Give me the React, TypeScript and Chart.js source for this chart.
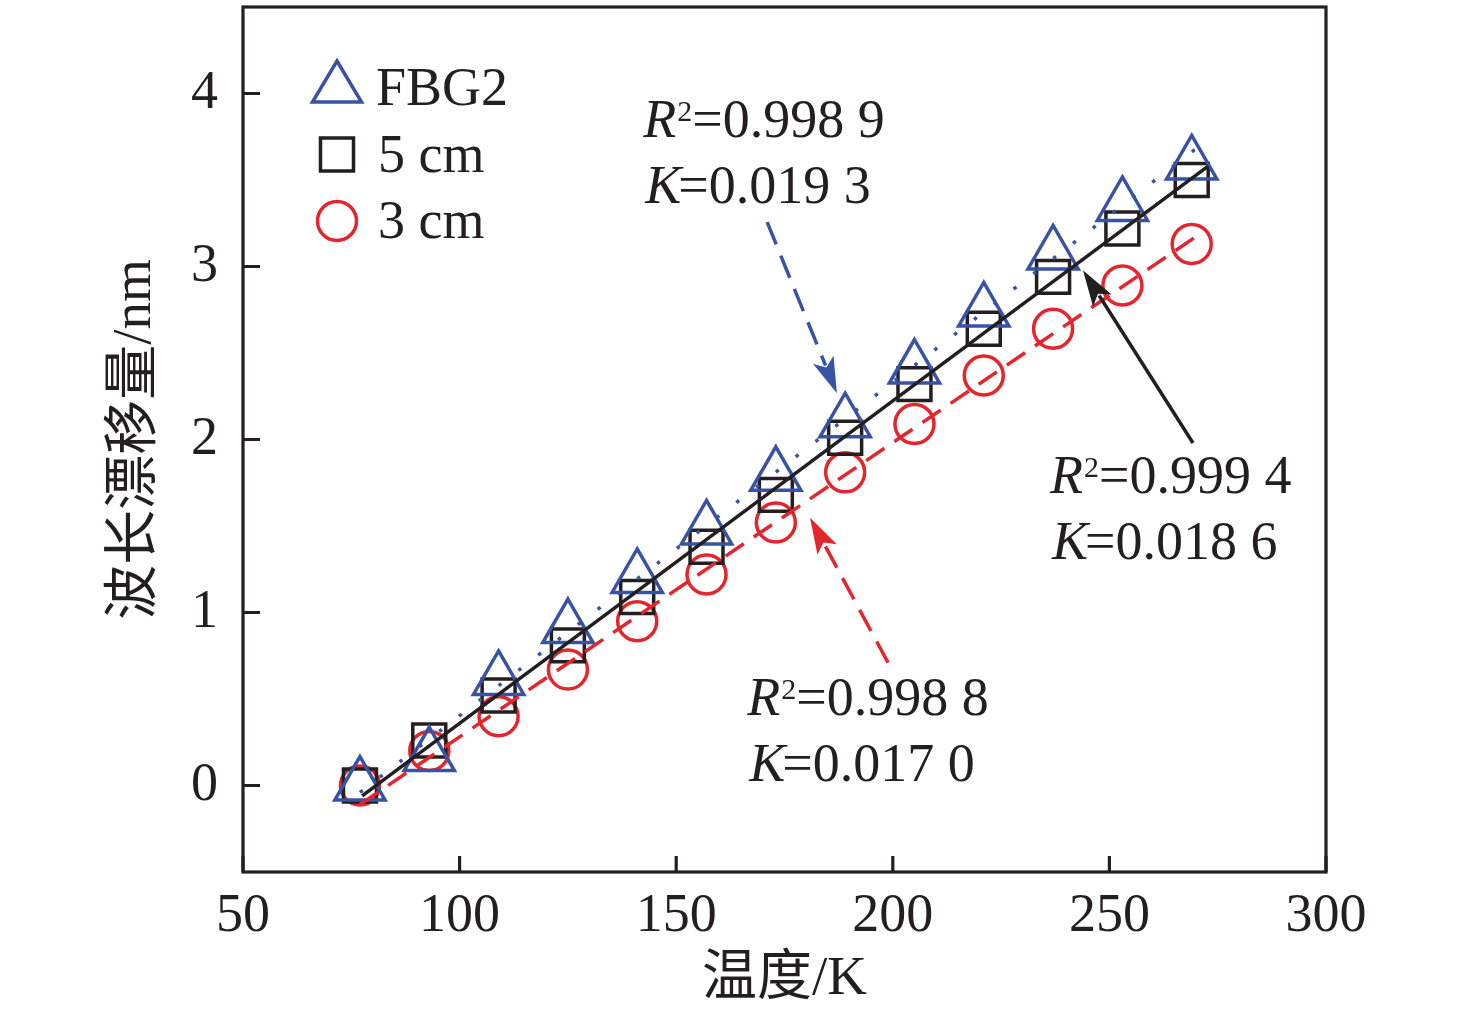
import { useEffect, useRef } from 'react'
import { Chart, registerables } from 'chart.js'

Chart.register(...registerables)

// temperature (K) and wavelength shift (nm)
const temps = [77, 93, 109, 125, 141, 157, 173, 189, 205, 221, 237, 253, 269]
const fbg2 = [0, 0.17, 0.61, 0.91, 1.2, 1.48, 1.79, 2.1, 2.41, 2.74, 3.07, 3.35, 3.59]
const cm5 = [0, 0.26, 0.52, 0.81, 1.09, 1.38, 1.68, 2.01, 2.32, 2.64, 2.94, 3.22, 3.5]
const cm3 = [0, 0.2, 0.4, 0.67, 0.95, 1.22, 1.52, 1.81, 2.09, 2.37, 2.64, 2.89, 3.13]

// linear fits, end points
const fitFbg2 = [[77, -0.04], [272, 3.72]]
const fit5 = [[77.5, -0.06], [272.8, 3.58]]
const fit3 = [[77, -0.11], [271.6, 3.2]]

const xTicks = [50, 100, 150, 200, 250, 300]
const yTicks = [0, 1, 2, 3, 4]

const INK = '#231f20'
const BLUE = '#3953a4'
const RED = '#e3262d'
const SERIF = '"Liberation Serif", "Times New Roman", "Noto Sans CJK SC", serif'

// fit labels (anchor in data units) and their arrows
const notes = [
  { r2: '0.998 9', k: '0.019 3', at: [142.4, 3.75] },
  { r2: '0.999 4', k: '0.018 6', at: [236.3, 1.69] },
  { r2: '0.998 8', k: '0.017 0', at: [166.4, 0.41] },
]
const arrows = [
  { from: [171, 3.256], to: [187.1, 2.267], color: BLUE, dash: [24, 12] },
  { from: [198.9, 0.71], to: [180.9, 1.547], color: RED, dash: [24, 12] },
  { from: [269.3, 1.98], to: [243.9, 2.979], color: INK, dash: [] as number[] },
]

const legendItems = [
  { label: 'FBG2', shape: 'triangle', color: BLUE },
  { label: '5 cm', shape: 'rect', color: INK },
  { label: '3 cm', shape: 'circle', color: RED },
]

const pts = (xs: number[], ys: number[]) => xs.map((x, i) => ({ x, y: ys[i] }))
const seg = (p: number[][]) => p.map(([x, y]) => ({ x, y }))

function drawNote(ctx: CanvasRenderingContext2D, x: number, y: number, r2: string, k: string) {
  ctx.fillStyle = INK
  ctx.textAlign = 'left'
  ctx.textBaseline = 'alphabetic'
  ctx.font = `italic 54px ${SERIF}`
  ctx.fillText('R', x, y)
  let cx = x + ctx.measureText('R').width + 1
  ctx.font = `30px ${SERIF}`
  ctx.fillText('2', cx, y - 16)
  cx += ctx.measureText('2').width
  ctx.font = `54px ${SERIF}`
  ctx.fillText('=' + r2, cx, y)

  const y2 = y + 66
  ctx.font = `italic 54px ${SERIF}`
  ctx.fillText('K', x + 2, y2)
  const kx = x + 2 + ctx.measureText('K').width - 3
  ctx.font = `54px ${SERIF}`
  ctx.fillText('=' + k, kx, y2)
}

function drawArrow(ctx: CanvasRenderingContext2D, x1: number, y1: number, x2: number, y2: number, color: string, dash: number[]) {
  const ang = Math.atan2(y2 - y1, x2 - x1)
  const len = 36
  const half = 11
  const bx = x2 - Math.cos(ang) * (len - 6)
  const by = y2 - Math.sin(ang) * (len - 6)
  ctx.save()
  ctx.strokeStyle = color
  ctx.fillStyle = color
  ctx.lineWidth = 3.5
  ctx.setLineDash(dash)
  ctx.beginPath()
  ctx.moveTo(x1, y1)
  ctx.lineTo(bx, by)
  ctx.stroke()
  ctx.setLineDash([])
  const px = -Math.sin(ang)
  const py = Math.cos(ang)
  const baseX = x2 - Math.cos(ang) * len
  const baseY = y2 - Math.sin(ang) * len
  ctx.beginPath()
  ctx.moveTo(x2, y2)
  ctx.lineTo(baseX + px * half, baseY + py * half)
  ctx.lineTo(x2 - Math.cos(ang) * (len - 8), y2 - Math.sin(ang) * (len - 8))
  ctx.lineTo(baseX - px * half, baseY - py * half)
  ctx.closePath()
  ctx.fill()
  ctx.restore()
}

function drawSymbol(ctx: CanvasRenderingContext2D, shape: string, cx: number, cy: number, color: string) {
  ctx.save()
  ctx.strokeStyle = color
  ctx.lineWidth = 3.5
  ctx.beginPath()
  if (shape === 'triangle') {
    ctx.moveTo(cx, cy - 27)
    ctx.lineTo(cx + 24.5, cy + 14)
    ctx.lineTo(cx - 24.5, cy + 14)
    ctx.closePath()
  } else if (shape === 'rect') {
    ctx.rect(cx - 16.5, cy - 16.5, 33, 33)
  } else {
    ctx.arc(cx, cy, 19.5, 0, Math.PI * 2)
  }
  ctx.stroke()
  ctx.restore()
}

const decor = {
  id: 'decor',
  afterDraw(chart: Chart) {
    const { ctx, chartArea: a } = chart
    const xs = chart.scales.x
    const ys = chart.scales.y

    ctx.save()
    // frame and inward ticks
    ctx.strokeStyle = INK
    ctx.lineWidth = 3.2
    ctx.strokeRect(a.left, a.top, a.right - a.left, a.bottom - a.top)
    ctx.beginPath()
    xTicks.forEach((v) => {
      const px = xs.getPixelForValue(v)
      ctx.moveTo(px, a.bottom)
      ctx.lineTo(px, a.bottom - 16)
    })
    yTicks.forEach((v) => {
      const py = ys.getPixelForValue(v)
      ctx.moveTo(a.left, py)
      ctx.lineTo(a.left + 17, py)
    })
    ctx.stroke()

    // fit labels and arrows
    notes.forEach((n) => drawNote(ctx, xs.getPixelForValue(n.at[0]), ys.getPixelForValue(n.at[1]), n.r2, n.k))
    arrows.forEach((ar) =>
      drawArrow(
        ctx,
        xs.getPixelForValue(ar.from[0]),
        ys.getPixelForValue(ar.from[1]),
        xs.getPixelForValue(ar.to[0]),
        ys.getPixelForValue(ar.to[1]),
        ar.color,
        ar.dash,
      ),
    )

    // legend
    legendItems.forEach((it, i) => {
      const cy = a.top + 81 + i * 66.5
      drawSymbol(ctx, it.shape, a.left + 94, cy, it.color)
      ctx.fillStyle = INK
      ctx.font = `54px ${SERIF}`
      ctx.textAlign = 'left'
      ctx.textBaseline = 'alphabetic'
      ctx.fillText(it.label, a.left + (i === 0 ? 133 : 135), cy + 17)
    })

    // axis titles
    ctx.font = `55px ${SERIF}`
    ctx.textAlign = 'center'
    ctx.textBaseline = 'middle'
    ctx.fillText('温度/K', (a.left + a.right) / 2, 980)
    ctx.translate(136, (a.top + a.bottom) / 2)
    ctx.rotate(-Math.PI / 2)
    ctx.fillText('波长漂移量/nm', 0, 0)
    ctx.restore()
  },
}

export default function App() {
  const canvasRef = useRef<HTMLCanvasElement>(null)

  useEffect(() => {
    if (!canvasRef.current) return
    const tickFont = { family: SERIF, size: 54 }

    const chart = new Chart(canvasRef.current, {
      type: 'scatter',
      data: {
        datasets: [
          {
            label: '5 cm fit',
            data: seg(fit5),
            showLine: true,
            borderColor: INK,
            borderWidth: 3.5,
            pointRadius: 0,
          },
          {
            label: '3 cm fit',
            data: seg(fit3),
            showLine: true,
            borderColor: RED,
            borderWidth: 3.5,
            borderDash: [22, 12],
            pointRadius: 0,
          },
          {
            label: 'FBG2 fit',
            data: seg(fitFbg2),
            showLine: true,
            borderColor: BLUE,
            borderWidth: 3.5,
            borderDash: [3.5, 21.5],
            pointRadius: 0,
          },
          {
            label: 'FBG2',
            data: pts(temps, fbg2),
            pointStyle: 'triangle',
            pointRadius: 29,
            borderColor: BLUE,
            borderWidth: 3.5,
            backgroundColor: 'transparent',
          },
          {
            label: '5 cm',
            data: pts(temps, cm5),
            pointStyle: 'rect',
            pointRadius: 23.3,
            borderColor: INK,
            borderWidth: 3.5,
            backgroundColor: 'transparent',
          },
          {
            label: '3 cm',
            data: pts(temps, cm3),
            pointStyle: 'circle',
            pointRadius: 19.5,
            borderColor: RED,
            borderWidth: 3.5,
            backgroundColor: 'transparent',
          },
        ],
      },
      options: {
        animation: false,
        responsive: true,
        maintainAspectRatio: false,
        events: [],
        layout: { autoPadding: false, padding: { top: 7, right: 150, left: 0, bottom: 0 } },
        plugins: {
          legend: { display: false },
          tooltip: { enabled: false },
        },
        scales: {
          x: {
            type: 'linear',
            min: 50,
            max: 300,
            afterFit: (s) => {
              s.height = 152
              s.paddingLeft = 0
              s.paddingRight = 0
            },
            afterBuildTicks: (s) => {
              s.ticks = xTicks.map((value) => ({ value }))
            },
            grid: { display: false, drawTicks: false },
            border: { display: false },
            ticks: { font: tickFont, color: INK, padding: 12, maxRotation: 0 },
          },
          y: {
            type: 'linear',
            min: -0.5,
            max: 4.5,
            afterFit: (s) => {
              s.width = 243
              s.paddingTop = 0
              s.paddingBottom = 0
            },
            afterBuildTicks: (s) => {
              s.ticks = yTicks.map((value) => ({ value }))
            },
            grid: { display: false, drawTicks: false },
            border: { display: false },
            ticks: { font: tickFont, color: INK, padding: 25 },
          },
        },
      },
      plugins: [decor],
    })

    return () => {
      chart.destroy()
    }
  }, [])

  return (
    <div style={{ position: 'fixed', left: 0, top: 0, width: 1476, height: 1024, background: '#fff' }}>
      <canvas ref={canvasRef} />
    </div>
  )
}
